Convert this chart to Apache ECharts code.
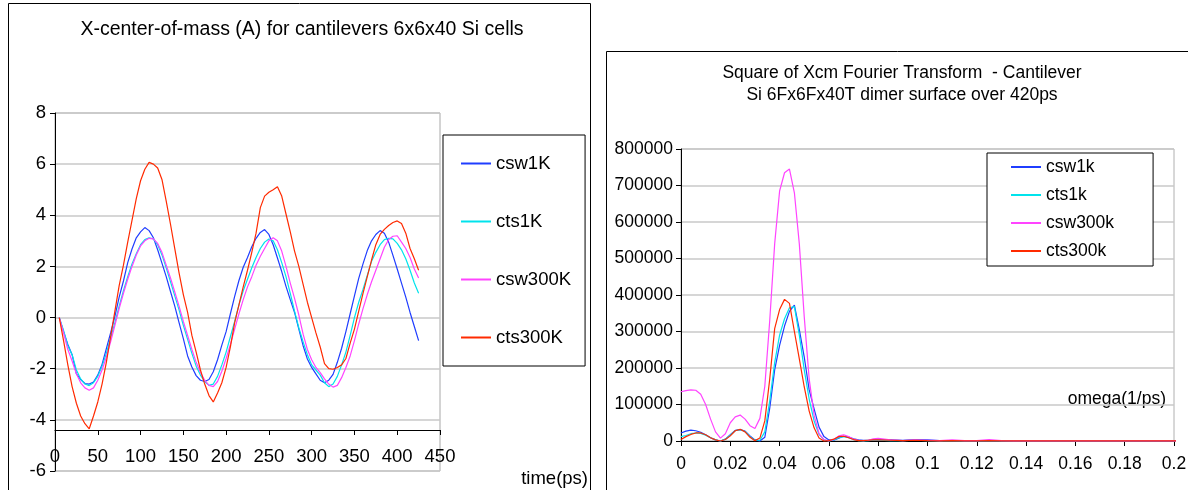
<!DOCTYPE html>
<html><head><meta charset="utf-8">
<script src="https://cdn.jsdelivr.net/npm/echarts@6/dist/echarts.min.js"></script>
<style>html,body{margin:0;padding:0;background:#fff}#c{width:1188px;height:490px}</style>
</head><body><div id="c"></div>
<script>
// ---------- Left chart: X-center-of-mass vs time ----------
const leftTitle = 'X-center-of-mass (A) for cantilevers 6x6x40 Si cells';
const leftXName = 'time(ps)';
const leftNames = ['csw1K', 'cts1K', 'csw300K', 'cts300K'];
const time = [5,10,15,20,25,30,35,40,45,50,55,60,65,70,75,80,85,90,95,100,
  105,110,115,120,125,130,135,140,145,150,155,160,165,170,175,180,185,190,195,200,
  205,210,215,220,225,230,235,240,245,250,255,260,265,270,275,280,285,290,295,300,
  305,310,315,320,325,330,335,340,345,350,355,360,365,370,375,380,385,390,395,400,
  405,410,415,420,425];
const csw1K = [0,-0.55,-1.05,-1.45,-2.2,-2.42,-2.58,-2.6,-2.52,-2.25,-1.83,-1.22,-0.6,0.05,0.8,1.43,2.15,2.68,3.12,3.35,
  3.52,3.4,3.12,2.65,2.13,1.6,1.02,0.45,-0.2,-0.82,-1.5,-1.93,-2.27,-2.45,-2.5,-2.42,-2.12,-1.65,-1.08,-0.55,
  0.15,0.83,1.45,1.97,2.35,2.77,3.1,3.33,3.44,3.25,2.85,2.33,1.8,1.22,0.7,0.2,-0.45,-1.1,-1.62,-1.95,
  -2.2,-2.45,-2.55,-2.45,-2.22,-1.75,-1.2,-0.55,0.15,0.85,1.53,2.1,2.62,3.0,3.25,3.4,3.3,2.95,2.43,1.9,
  1.35,0.8,0.2,-0.35,-0.9];
const cts1K = [0,-0.5,-1.1,-1.45,-2.05,-2.4,-2.6,-2.66,-2.55,-2.3,-1.9,-1.4,-0.8,-0.2,0.45,1.05,1.6,2.1,2.5,2.85,
  3.05,3.12,3.08,2.85,2.45,1.95,1.4,0.85,0.3,-0.3,-0.85,-1.4,-1.9,-2.25,-2.5,-2.65,-2.6,-2.3,-1.85,-1.35,
  -0.75,-0.15,0.5,1.05,1.5,1.95,2.35,2.7,2.95,3.07,3.0,2.65,2.15,1.6,0.95,0.25,-0.4,-0.95,-1.45,-1.85,
  -2.05,-2.25,-2.55,-2.7,-2.6,-2.3,-1.85,-1.35,-0.7,0.0,0.6,1.1,1.65,2.2,2.55,2.85,3.05,3.1,3.08,2.9,
  2.65,2.3,1.85,1.35,0.95];
const csw300K = [0,-0.6,-1.25,-1.7,-2.2,-2.55,-2.75,-2.84,-2.75,-2.45,-2.05,-1.55,-0.95,-0.3,0.35,0.95,1.5,2.0,2.45,2.8,
  3.0,3.1,3.08,2.9,2.55,2.05,1.55,1.0,0.45,-0.15,-0.7,-1.25,-1.75,-2.15,-2.45,-2.65,-2.7,-2.5,-2.1,-1.6,
  -1.05,-0.45,0.15,0.7,1.2,1.6,2.05,2.4,2.7,3.0,3.12,3.0,2.6,2.0,1.35,0.75,0.1,-0.65,-1.25,-1.65,
  -1.95,-2.15,-2.4,-2.6,-2.72,-2.65,-2.35,-1.95,-1.5,-0.9,-0.25,0.35,0.9,1.4,1.85,2.3,2.75,3.05,3.18,3.2,
  2.95,2.7,2.35,1.9,1.55];
const cts300K = [0,-0.9,-1.85,-2.7,-3.35,-3.85,-4.15,-4.35,-3.85,-3.3,-2.6,-1.75,-0.75,0.25,1.25,2.05,2.95,3.8,4.65,5.35,
  5.8,6.07,6.0,5.85,5.4,4.55,3.65,2.7,1.75,0.9,0.2,-0.7,-1.35,-2.05,-2.6,-3.05,-3.3,-2.95,-2.55,-1.95,
  -1.15,-0.2,0.5,1.2,1.85,2.55,3.3,4.3,4.75,4.9,5.0,5.12,4.75,4.05,3.35,2.6,2.0,1.3,0.6,0.0,
  -0.6,-1.15,-1.8,-2.0,-2.02,-1.95,-1.85,-1.6,-1.0,-0.45,0.25,0.95,1.6,2.25,2.85,3.25,3.45,3.6,3.72,3.78,
  3.68,3.3,2.7,2.3,1.85];

// ---------- Right chart: square of Xcm Fourier transform ----------
const rightTitle = ['Square of Xcm Fourier Transform  - Cantilever', 'Si 6Fx6Fx40T dimer surface over 420ps'];
const rightXName = 'omega(1/ps)';
const rightNames = ['csw1k', 'cts1k', 'csw300k', 'cts300k'];
const omega = [0,0.002,0.004,0.006,0.008,0.01,0.012,0.014,0.016,0.018,0.02,0.022,0.024,0.026,0.028,0.03,0.032,0.034,0.036,0.038,
  0.04,0.042,0.044,0.046,0.048,0.05,0.052,0.054,0.056,0.058,0.06,0.062,0.064,0.066,0.068,0.07,0.072,0.074,0.076,0.078,0.08,
  0.085,0.09,0.095,0.1,0.105,0.11,0.115,0.12,0.125,0.13,0.135,0.14,0.145,0.15,0.155,0.16,0.165,0.17,0.175,0.18,0.185,0.19,0.195,0.2,0.206];
const csw1k = [22000,27000,30000,28000,24000,17000,9000,3000,0,5000,17000,29000,31000,27000,14000,3000,0,10000,90000,195000,
  262000,315000,355000,372000,305000,230000,140000,88000,38000,12000,3000,2000,8000,13000,11000,6000,3000,2000,2000,3000,3000,
  3000,2000,4000,3000,1000,1000,500,500,500,300,300,200,200,200,200,200,200,200,200,200,200,200,200,200,200];
const cts1k = [12000,15000,20000,22000,21000,16000,9000,3000,0,5000,16000,28000,31000,26000,12000,2000,2000,25000,110000,215000,
  290000,335000,365000,368000,290000,195000,115000,55000,18000,3000,0,3000,9000,12000,9000,4000,1000,0,1000,2000,2000,
  1000,1000,2000,1000,500,500,500,500,500,300,300,200,200,200,200,200,200,200,200,200,200,200,200,200,200];
const csw300k = [135000,138000,140000,139000,128000,100000,60000,25000,8000,20000,50000,66000,71000,60000,42000,34000,62000,150000,330000,540000,
  685000,735000,745000,680000,540000,340000,170000,70000,20000,4000,0,4000,14000,17000,12000,5000,2000,1000,2000,6000,7000,
  3000,1000,3000,2000,1000,3000,1000,1000,4000,1000,500,500,400,300,300,200,200,200,200,200,200,200,200,200,200];
const cts300k = [4000,12000,18000,22000,22000,17000,9000,3000,0,4000,14000,28000,32000,25000,10000,1000,8000,55000,170000,308000,
  360000,388000,377000,300000,225000,148000,82000,36000,8000,0,1000,5000,12000,13000,9000,4000,1000,1000,2000,3000,3000,
  2000,1000,2000,1000,500,1000,500,500,1000,500,300,300,300,200,200,200,200,200,200,200,200,200,200,200,200];

const COLORS = ['#1f3dff', '#00e3ec', '#ff44ff', '#ff2a00'];
const FONT = '"Liberation Sans", Arial, sans-serif';
const pair = (xs, ys) => xs.map((x, i) => [x, ys[i]]);

const leftSeries = [csw1K, cts1K, csw300K, cts300K].map((d, i) => ({
  name: leftNames[i], type: 'line', xAxisIndex: 0, yAxisIndex: 0, data: pair(time, d),
  symbol: 'none', lineStyle: {width: 1.2, color: COLORS[i]}, itemStyle: {color: COLORS[i]}
}));
const rightSeries = [csw1k, cts1k, csw300k, cts300k].map((d, i) => ({
  name: rightNames[i], type: 'line', xAxisIndex: 1, yAxisIndex: 1, data: pair(omega, d), clip: false,
  symbol: 'none', lineStyle: {width: 1.2, color: COLORS[i]}, itemStyle: {color: COLORS[i]}
}));

const chart = echarts.init(document.getElementById('c'));
chart.setOption({
  animation: false,
  backgroundColor: '#fff',
  textStyle: {fontFamily: FONT, color: '#000'},
  graphic: [
    {type: 'rect', shape: {x: 8.5, y: 3.5, width: 582, height: 520}, style: {fill: null, stroke: '#000', lineWidth: 1}},
    {type: 'rect', shape: {x: 606.5, y: 51.5, width: 620, height: 480}, style: {fill: null, stroke: '#000', lineWidth: 1}},
    {type: 'text', x: 302, y: 30, style: {text: leftTitle, font: '19.5px ' + FONT, fill: '#000', align: 'center', verticalAlign: 'middle'}},
    {type: 'text', x: 588, y: 479, style: {text: leftXName, font: '18.5px ' + FONT, fill: '#000', align: 'right', verticalAlign: 'middle'}},
    {type: 'text', x: 902, y: 84, style: {text: rightTitle.join('\n'), font: '17.5px ' + FONT, lineHeight: 22, fill: '#000', align: 'center', verticalAlign: 'middle'}},
    {type: 'text', x: 1166, y: 399, style: {text: rightXName, font: '17.5px ' + FONT, fill: '#000', align: 'right', verticalAlign: 'middle'}}
  ],
  grid: [
    {left: 55, top: 113, width: 385, height: 358, show: true, borderColor: '#a8a8a8', borderWidth: 1, backgroundColor: 'transparent', outerBoundsMode: 'none', containLabel: false},
    {left: 681, top: 149, width: 493, height: 292, show: true, borderColor: '#b0b0b0', borderWidth: 1, backgroundColor: 'transparent', outerBoundsMode: 'none', containLabel: false}
  ],
  xAxis: [
    {gridIndex: 0, type: 'value', min: 0, max: 450, interval: 50, position: 'bottom', offset: -41,
      axisLine: {show: true, onZero: false, lineStyle: {color: '#000', width: 1}},
      axisTick: {show: true, length: 5, lineStyle: {color: '#000'}},
      axisLabel: {margin: 17, fontSize: 18.5, color: '#000', fontFamily: FONT},
      splitLine: {show: false}},
    {gridIndex: 1, type: 'value', min: 0, max: 0.2, interval: 0.02, position: 'bottom',
      axisLine: {show: true, onZero: false, lineStyle: {color: '#000', width: 1}},
      axisTick: {show: true, length: 5, lineStyle: {color: '#000'}},
      axisLabel: {margin: 14, fontSize: 17.5, color: '#000', fontFamily: FONT, formatter: v => String(+v.toFixed(2))},
      splitLine: {show: false}}
  ],
  yAxis: [
    {gridIndex: 0, type: 'value', min: -6, max: 8, interval: 2,
      axisLine: {show: true, onZero: false, lineStyle: {color: '#000', width: 1}},
      axisTick: {show: true, length: 5, lineStyle: {color: '#000'}},
      axisLabel: {margin: 9, fontSize: 18.5, color: '#000', fontFamily: FONT, formatter: v => String(v)},
      splitLine: {show: true, lineStyle: {color: '#c8c8c8', width: 1.5}}},
    {gridIndex: 1, type: 'value', min: 0, max: 800000, interval: 100000,
      axisLine: {show: true, onZero: false, lineStyle: {color: '#000', width: 1}},
      axisTick: {show: true, length: 5, lineStyle: {color: '#000'}},
      axisLabel: {margin: 8, fontSize: 17.5, color: '#000', fontFamily: FONT, formatter: v => String(v)},
      splitLine: {show: true, lineStyle: {color: '#c8c8c8', width: 1.5}}}
  ],
  legend: [
    {data: leftNames, left: 443, top: 135, orient: 'vertical', borderColor: '#000', borderWidth: 1,
      padding: [19, 14, 19, 17], itemGap: 39, itemWidth: 30, itemHeight: 14,
      itemStyle: {opacity: 0, borderWidth: 0},
      textStyle: {fontSize: 18.5, color: '#000', fontFamily: FONT}, backgroundColor: '#fff'},
    {data: rightNames, left: 987, top: 153, orient: 'vertical', borderColor: '#000', borderWidth: 1,
      padding: [5, 39, 6, 23], itemGap: 10, itemWidth: 30, itemHeight: 14,
      itemStyle: {opacity: 0, borderWidth: 0},
      textStyle: {fontSize: 17.5, color: '#000', fontFamily: FONT}, backgroundColor: '#fff'}
  ],
  series: leftSeries.concat(rightSeries)
});
</script>
</body></html>
